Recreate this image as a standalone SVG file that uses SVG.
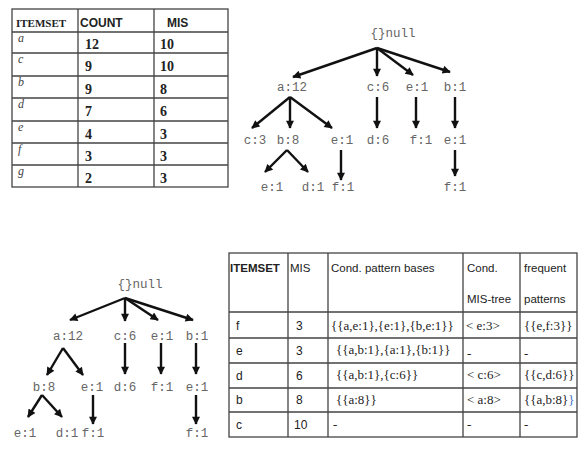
<svg xmlns="http://www.w3.org/2000/svg" width="582" height="472" viewBox="0 0 582 472">
<style>
.bg{fill:#fff}
.grid{stroke:#444;stroke-width:1.3;fill:none}
.t1h{font-family:"Liberation Serif",serif;font-weight:bold;font-size:11px;fill:#222}
.t1hs{font-family:"Liberation Sans",sans-serif;font-weight:bold;font-size:12px;fill:#222}
.t1v{font-family:"Liberation Serif",serif;font-weight:bold;font-size:14px;fill:#222}
.t1i{font-family:"Liberation Serif",serif;font-style:italic;font-size:12px;fill:#444}
.tn{font-family:"Liberation Mono",monospace;font-size:12.5px;fill:#666;text-anchor:middle}
.edge{stroke:#111;stroke-width:2.4;fill:none;marker-end:url(#ah)}
.t2h{font-family:"Liberation Sans",sans-serif;font-size:11.5px;fill:#222}
.t2v{font-family:"Liberation Sans",sans-serif;font-size:12px;fill:#222}
.t2p{font-family:"Liberation Serif",serif;font-size:13px;fill:#222}
</style>
<defs>
<marker id="ah" viewBox="0 0 10 10" refX="9" refY="5" markerWidth="4" markerHeight="3.4" orient="auto" markerUnits="strokeWidth">
<path d="M0,0 L10,5 L0,10 z" fill="#111"/>
</marker>
</defs>
<rect class="bg" x="0" y="0" width="582" height="472"/>

<g id="table1">
<rect class="grid" x="12" y="9" width="216" height="178"/>
<path class="grid" d="M78,9V187M154,9V187M12,32H228M12,53H228M12,76H228M12,98H228M12,121H228M12,143H228M12,165H228"/>
<text class="t1h" x="16" y="27">ITEMSET</text>
<text class="t1hs" x="80" y="27">COUNT</text>
<text class="t1hs" x="167" y="27">MIS</text>
<text class="t1i" x="18" y="42">a</text>
<text class="t1i" x="18" y="63">c</text>
<text class="t1i" x="18" y="86">b</text>
<text class="t1i" x="18" y="108">d</text>
<text class="t1i" x="18" y="131">e</text>
<text class="t1i" x="18" y="153">f</text>
<text class="t1i" x="18" y="175">g</text>
<text class="t1v" x="85" y="49">12</text><text class="t1v" x="160" y="49">10</text>
<text class="t1v" x="85" y="71">9</text><text class="t1v" x="160" y="71">10</text>
<text class="t1v" x="85" y="94">9</text><text class="t1v" x="160" y="94">8</text>
<text class="t1v" x="85" y="116">7</text><text class="t1v" x="160" y="116">6</text>
<text class="t1v" x="85" y="139">4</text><text class="t1v" x="160" y="139">3</text>
<text class="t1v" x="85" y="161">3</text><text class="t1v" x="160" y="161">3</text>
<text class="t1v" x="85" y="183">2</text><text class="t1v" x="160" y="183">3</text>
</g>

<g id="tree1">
<g id="t1-null"><text class="tn" x="393" y="37">{}null</text></g>
<g id="t1-a12"><text class="tn" x="292" y="91">a:12</text></g>
<g id="t1-c6"><text class="tn" x="378" y="91">c:6</text></g>
<g id="t1-e1a"><text class="tn" x="417" y="91">e:1</text></g>
<g id="t1-b1"><text class="tn" x="455" y="91">b:1</text></g>
<g id="t1-c3"><text class="tn" x="255" y="144">c:3</text></g>
<g id="t1-b8"><text class="tn" x="288" y="144">b:8</text></g>
<g id="t1-e1b"><text class="tn" x="342" y="144">e:1</text></g>
<g id="t1-d6"><text class="tn" x="378" y="144">d:6</text></g>
<g id="t1-f1a"><text class="tn" x="421" y="144">f:1</text></g>
<g id="t1-e1c"><text class="tn" x="455" y="144">e:1</text></g>
<g id="t1-e1d"><text class="tn" x="272" y="191">e:1</text></g>
<g id="t1-d1"><text class="tn" x="313" y="191">d:1</text></g>
<g id="t1-f1b"><text class="tn" x="343" y="191">f:1</text></g>
<g id="t1-f1c"><text class="tn" x="455" y="191">f:1</text></g>
</g>
<g id="tree1-edges">
<path class="edge" d="M377,48L293,77"/>
<path class="edge" d="M377,48L377,76"/>
<path class="edge" d="M377,48L413,75"/>
<path class="edge" d="M377,48L450,72"/>
<path class="edge" d="M290,97L252,128"/>
<path class="edge" d="M290,97L290,128"/>
<path class="edge" d="M290,97L332,128"/>
<path class="edge" d="M377,97L377,128"/>
<path class="edge" d="M416,97L416,128"/>
<path class="edge" d="M455,97L455,128"/>
<path class="edge" d="M287,150L265,172"/>
<path class="edge" d="M287,150L308,172"/>
<path class="edge" d="M341,150L341,180"/>
<path class="edge" d="M455,150L455,176"/>
</g>

<g id="tree2">
<g id="t2-null"><text class="tn" x="140" y="288">{}null</text></g>
<g id="t2-a12"><text class="tn" x="68" y="340">a:12</text></g>
<g id="t2-c6"><text class="tn" x="125" y="340">c:6</text></g>
<g id="t2-e1a"><text class="tn" x="162" y="340">e:1</text></g>
<g id="t2-b1"><text class="tn" x="197" y="340">b:1</text></g>
<g id="t2-b8"><text class="tn" x="44" y="391">b:8</text></g>
<g id="t2-e1b"><text class="tn" x="92" y="391">e:1</text></g>
<g id="t2-d6"><text class="tn" x="125" y="391">d:6</text></g>
<g id="t2-f1a"><text class="tn" x="162" y="391">f:1</text></g>
<g id="t2-e1c"><text class="tn" x="197" y="391">e:1</text></g>
<g id="t2-e1d"><text class="tn" x="25" y="437">e:1</text></g>
<g id="t2-d1"><text class="tn" x="67" y="437">d:1</text></g>
<g id="t2-f1b"><text class="tn" x="93" y="437">f:1</text></g>
<g id="t2-f1c"><text class="tn" x="197" y="437">f:1</text></g>
</g>
<g id="tree2-edges">
<path class="edge" d="M125,298L70,320"/>
<path class="edge" d="M125,298L125,321"/>
<path class="edge" d="M125,298L158,320"/>
<path class="edge" d="M125,298L193,320"/>
<path class="edge" d="M63,348L47,375"/>
<path class="edge" d="M63,348L83,375"/>
<path class="edge" d="M125,343L125,374"/>
<path class="edge" d="M161,343L161,374"/>
<path class="edge" d="M196,343L196,374"/>
<path class="edge" d="M42,395L28,417"/>
<path class="edge" d="M42,395L62,417"/>
<path class="edge" d="M93,395L93,424"/>
<path class="edge" d="M196,395L196,424"/>
</g>

<g id="table2">
<rect class="grid" x="229" y="253" width="348" height="184"/>
<path class="grid" d="M288,253V437M328,253V437M463,253V437M520,253V437M229,312H577M229,338H577M229,363H577M229,388H577M229,412H577"/>
<text class="t2h" x="230" y="272" font-weight="bold">ITEMSET</text>
<text class="t2h" x="290" y="272">MIS</text>
<text class="t2h" x="331" y="272">Cond.  pattern  bases</text>
<text class="t2h" x="467" y="272">Cond.</text>
<text class="t2h" x="467" y="303">MIS-tree</text>
<text class="t2h" x="524" y="272">frequent</text>
<text class="t2h" x="524" y="303">patterns</text>
<text class="t2v" x="236" y="330">f</text><text class="t2v" x="296" y="330">3</text>
<text class="t2p" x="331" y="330">{{a,e:1},{e:1},{b,e:1}}</text>
<text class="t2p" x="466" y="330">&lt; e:3&gt;</text>
<text class="t2p" x="524" y="330">{{e,f:3}}</text>
<text class="t2v" x="236" y="355">e</text><text class="t2v" x="296" y="355">3</text>
<text class="t2p" x="336" y="354">{{a,b:1},{a:1},{b:1}}</text>
<text class="t2p" x="467" y="358">-</text>
<text class="t2p" x="524" y="358">-</text>
<text class="t2v" x="236" y="380">d</text><text class="t2v" x="296" y="380">6</text>
<text class="t2p" x="336" y="379">{{a,b:1},{c:6}}</text>
<text class="t2p" x="467" y="379">&lt; c:6&gt;</text>
<text class="t2p" x="524" y="379">{{c,d:6}}</text>
<text class="t2v" x="236" y="404">b</text><text class="t2v" x="296" y="404">8</text>
<text class="t2p" x="336" y="404">{{a:8}}</text>
<text class="t2p" x="467" y="404">&lt; a:8&gt;</text>
<text class="t2p" x="524" y="404">{{a,b:8}<tspan fill="#3a6fc4">}</tspan></text>
<text class="t2v" x="236" y="429">c</text><text class="t2v" x="294" y="429">10</text>
<text class="t2p" x="333" y="429">-</text>
<text class="t2p" x="467" y="429">-</text>
<text class="t2p" x="524" y="429">-</text>
</g>
</svg>
